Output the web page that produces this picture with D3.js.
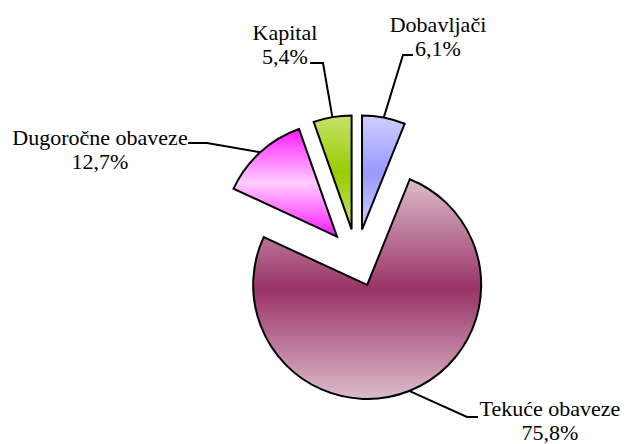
<!DOCTYPE html>
<html>
<head>
<meta charset="utf-8">
<script src="https://cdn.jsdelivr.net/npm/d3@7"></script>
<style>
  body { margin: 0; background: #fff; }
  svg { display: block; }
</style>
</head>
<body>
<div class="container"></div>
<script>
// data
const categories = ["Dobavljači", "Tekuće obaveze", "Dugoročne obaveze", "Kapital"];
const values = [6.1, 75.8, 12.7, 5.4];
// gradient colours: edge colour, middle colour
const edgeColors = ["#cfcfff", "#dcbccc", "#ff1aff", "#c6e36a"];
const midColors = ["#9999ff", "#993366", "#ffccff", "#99cc00"];

const w = 625, h = 444;
const cx = 356.5, cy = 258;
const radius = 114;
const explode = 29;

/* label layout: text centre, first baseline, elbow point, end of horizontal leader */
const labelPos = [
  { x: 438, y: 32, ex: 403, ey: 55, hx: 413 },
  { x: 550, y: 416, ex: 467, ey: 417, hx: 478 },
  { x: 100, y: 145, ex: 207, ey: 143, hx: 188 },
  { x: 285, y: 40, ex: 323, ey: 63, hx: 310 }
];

const svg = d3.select(".container")
  .append("svg")
  .attr("width", w)
  .attr("height", h);

const defs = svg.append("defs");
categories.forEach((c, i) => {
  const g = defs.append("linearGradient")
    .attr("id", "grad" + i)
    .attr("x1", 0).attr("y1", 0)
    .attr("x2", 0).attr("y2", 1);
  g.append("stop").attr("offset", "0%").attr("stop-color", edgeColors[i]);
  g.append("stop").attr("offset", "50%").attr("stop-color", midColors[i]);
  g.append("stop").attr("offset", "100%").attr("stop-color", edgeColors[i]);
});

const pie = d3.pie().sort(null).value(d => d).startAngle(0).endAngle(2 * Math.PI);
const arcs = pie(values);
const arc = d3.arc().innerRadius(0).outerRadius(radius);

const offset = (d, r) => {
  const a = (d.startAngle + d.endAngle) / 2;
  return [Math.sin(a) * r, -Math.cos(a) * r];
};

const g = svg.append("g").attr("transform", "translate(" + cx + "," + cy + ")");

g.selectAll("path.slice")
  .data(arcs)
  .enter()
  .append("path")
  .attr("class", "slice")
  .attr("transform", d => {
    const o = offset(d, explode);
    return "translate(" + o[0] + "," + o[1] + ")";
  })
  .attr("d", arc)
  .attr("fill", (d, i) => "url(#grad" + i + ")")
  .attr("stroke", "#000")
  .attr("stroke-width", 2)
  .attr("stroke-linejoin", "miter");

// leader lines
svg.selectAll("polyline.leader")
  .data(arcs)
  .enter()
  .append("polyline")
  .attr("class", "leader")
  .attr("points", (d, i) => {
    const o = offset(d, explode + radius);
    const p = labelPos[i];
    return [[cx + o[0], cy + o[1]], [p.ex, p.ey], [p.hx, p.ey]].map(q => q.join(",")).join(" ");
  })
  .attr("fill", "none")
  .attr("stroke", "#000")
  .attr("stroke-width", 2);

// labels
const fmt = v => String(v.toFixed(1)).replace(".", ",") + "%";
const t = svg.selectAll("text.lbl")
  .data(arcs)
  .enter()
  .append("text")
  .attr("class", "lbl")
  .attr("text-anchor", "middle")
  .style("font-family", "'Liberation Serif', 'DejaVu Serif', serif")
  .style("font-size", "22px")
  .style("fill", "#000");
t.append("tspan")
  .attr("x", (d, i) => labelPos[i].x)
  .attr("y", (d, i) => labelPos[i].y)
  .text((d, i) => categories[i]);
t.append("tspan")
  .attr("x", (d, i) => labelPos[i].x)
  .attr("y", (d, i) => labelPos[i].y + 24)
  .text(d => fmt(d.data));
</script>
</body>
</html>
